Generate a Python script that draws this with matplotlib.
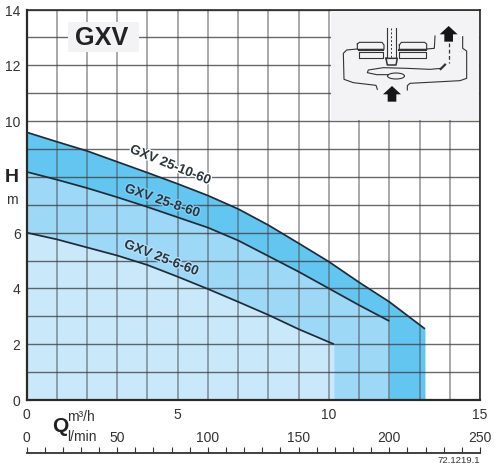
import matplotlib
matplotlib.use("Agg")
import matplotlib.pyplot as plt
import matplotlib.patheffects as pe
from matplotlib.patches import Rectangle, Ellipse, Polygon

plt.rcParams['font.family'] = ['Liberation Sans', 'DejaVu Sans']

# ---- data ----
q_10 = [0, 1, 2, 3, 4, 5, 6, 7, 8, 9, 10, 11, 12, 13.18]
h_10 = [9.6, 9.26, 8.93, 8.54, 8.15, 7.75, 7.33, 6.85, 6.27, 5.62, 4.96, 4.22, 3.52, 2.55]
q_8 = [0, 1, 2, 3, 4, 5, 6, 7, 8, 9, 10, 11, 12]
h_8 = [8.18, 7.9, 7.6, 7.27, 6.92, 6.55, 6.18, 5.72, 5.16, 4.6, 4.0, 3.4, 2.83]
q_6 = [0, 1, 2, 3, 4, 5, 6, 7, 8, 9, 10.17]
h_6 = [6.0, 5.76, 5.47, 5.18, 4.84, 4.42, 3.98, 3.52, 3.05, 2.54, 2.0]
names = ['GXV 25-10-60', 'GXV 25-8-60', 'GXV 25-6-60']
q_ticks = [0, 5, 10, 15]
h_ticks = [0, 2, 4, 6, 10, 12, 14]
lmin_major = [0, 50, 100, 150, 200, 250]
lmin_minor = [0, 10, 20, 30, 40, 50, 60, 70, 80, 90, 100, 110, 120,
              130, 140, 150, 160, 170, 180, 190, 200, 210, 220, 230, 240, 250]

W, H = 500, 469
L, R, T, B = 26.5, 480, 9.5, 400
fig = plt.figure(figsize=(W / 100, H / 100), dpi=100)
ax = fig.add_axes([L / W, 1 - B / H, (R - L) / W, (B - T) / H])
ax.set_xlim(0, 15)
ax.set_ylim(0, 14)

c_top, c_mid, c_low = '#63c6f1', '#9dd8f6', '#c9e8fa'
ax.fill_between(q_10, h_10, 0, color=c_top, lw=0, zorder=1)
ax.fill_between(q_8, h_8, 0, color=c_mid, lw=0, zorder=1.1)
ax.fill_between(q_6, h_6, 0, color=c_low, lw=0, zorder=1.2)

ax.set_xticks(range(16))
ax.set_yticks(range(15))
ax.set_axisbelow(False)
ax.grid(axis='y', color='#3c4044', lw=1.0, alpha=0.78)
ax.grid(axis='x', color='#4a4e52', lw=1.1, alpha=0.62)
ax.tick_params(length=0, labelbottom=False, labelleft=False)

for q, h in [(q_10, h_10), (q_8, h_8), (q_6, h_6)]:
    ax.plot(q, h, color='#1f2c38', lw=1.25, zorder=6, solid_capstyle='butt')

for s in ax.spines.values():
    s.set_color('#2a2a2a')
    s.set_linewidth(1.2)
    s.set_zorder(10)
ax.spines['left'].set_linewidth(1.6)
ax.spines['bottom'].set_linewidth(1.6)

for v in q_ticks:
    ax.annotate(str(v), (v, 0), xytext=(0, -8), textcoords='offset pixels',
                ha='center', va='top', fontsize=10, color='#333333', annotation_clip=False)
for v in h_ticks:
    ax.annotate(str(v), (0, v), xytext=(-6, -2), textcoords='offset pixels',
                ha='right', va='center', fontsize=10, color='#333333', annotation_clip=False)

# l/min scale
ax2 = fig.add_axes([L / W, 1 - 453 / H, (R - L) / W, 0.0001])
ax2.set_xlim(0, 250)
ax2.set_yticks([])
for k in ('left', 'right', 'bottom'):
    ax2.spines[k].set_visible(False)
ax2.spines['top'].set_color('#333333')
ax2.spines['top'].set_linewidth(1.3)
ax2.xaxis.tick_top()
ax2.set_xticks(lmin_major)
ax2.set_xticks(lmin_minor, minor=True)
ax2.tick_params(axis='x', which='both', direction='out', length=4.5, width=0.8,
                color='#333333', pad=1, labelsize=10, labelcolor='#333333')

# overlay in pixel space for the annotations
ov = fig.add_axes([0, 0, 1, 1], zorder=20)
ov.set_xlim(0, W)
ov.set_ylim(H, 0)
ov.axis('off')

ov.add_patch(Rectangle((331, 11), 148, 109, fc='#f3f3f6', ec='none', zorder=1))
ov.add_patch(Rectangle((68, 22), 71, 30, fc='#f3f3f6', ec='none', zorder=1))
ov.text(102, 38, 'GXV', fontsize=18.2, fontweight='bold', color='#222222', ha='center', va='center')

ov.text(12, 177, 'H', fontsize=14, fontweight='bold', color='#222222', ha='center', va='center')
ov.text(12, 200, 'm', fontsize=10, color='#333333', ha='center', va='center')
ov.text(52, 427, 'Q', fontsize=15, fontweight='bold', color='#222222', ha='left', va='center')
ov.text(67, 417, 'm³/h', fontsize=10, color='#333333', ha='left', va='center')
ov.text(67, 437, 'l/min', fontsize=10, color='#333333', ha='left', va='center')
ov.text(480, 460.5, '72.1219.1', fontsize=6.8, color='#333333', ha='right', va='center')

label_pos = [(170, 165.5, 22), (162, 201.5, 19), (161, 258.5, 21)]
halos = ['#ffffff', '#7fcef3', '#b5e1f8']
for n, (x, y, r), halo in zip(names, label_pos, halos):
    ov.text(x, y, n, fontsize=9.7, fontweight='bold', color='#2c3640', ha='center', va='center',
            rotation=-r, rotation_mode='anchor',
            path_effects=[pe.withStroke(linewidth=1.8, foreground=halo)])


def zx(x):
    return 320 + x / 3


def zy(y):
    return y / 3


def path(points, **kw):
    ov.plot([zx(p[0]) for p in points], [zy(p[1]) for p in points],
            color=kw.pop('color', '#333333'), lw=kw.pop('lw', 0.8), zorder=3, **kw)


path([(172, 268), (168, 256), (100, 248), (72, 238), (70, 160), (80, 150), (112, 147)])
path([(320, 147), (343, 145), (345, 108)])
path([(428, 110), (428, 145), (440, 153), (440, 235), (420, 242), (270, 250), (262, 257), (262, 270)])
path([(112, 132), (118, 127), (186, 127), (192, 135), (192, 148), (112, 148), (112, 132)])
path([(238, 135), (244, 127), (314, 127), (320, 132), (320, 148), (238, 148), (238, 135)])
path([(116, 155), (190, 155), (190, 175), (116, 175), (116, 155)])
path([(238, 155), (318, 155), (318, 175), (238, 175), (238, 155)])
path([(116, 150), (190, 150)], lw=1.5)
path([(238, 150), (318, 150)], lw=1.5)
path([(200, 85), (200, 175)])
path([(228, 85), (228, 175)])
path([(214, 85), (214, 175)], ls=(0, (2, 2)), lw=0.7)
path([(198, 175), (232, 175), (228, 195), (202, 195), (198, 175)], lw=1.1)
path([(365, 205), (330, 208), (260, 205), (190, 203), (145, 210), (142, 218), (170, 224), (205, 224)])
path([(386, 130), (386, 188)], ls=(0, (3, 2)), lw=0.9)
path([(362, 207), (375, 194)], lw=1.6)
ov.add_patch(Ellipse((zx(228), zy(228)), 17, 6, fc='none', ec='#333333', lw=0.8, zorder=3))

for cx, tip in [(216, 258), (386, 78)]:
    arrow = [(cx, tip), (cx + 27, tip + 25), (cx + 13, tip + 25), (cx + 13, tip + 47),
             (cx - 13, tip + 47), (cx - 13, tip + 25), (cx - 27, tip + 25)]
    ov.add_patch(Polygon([(zx(a), zy(b)) for a, b in arrow], fc='#151515', ec='none', zorder=4))

fig.savefig('out.png', dpi=100)
